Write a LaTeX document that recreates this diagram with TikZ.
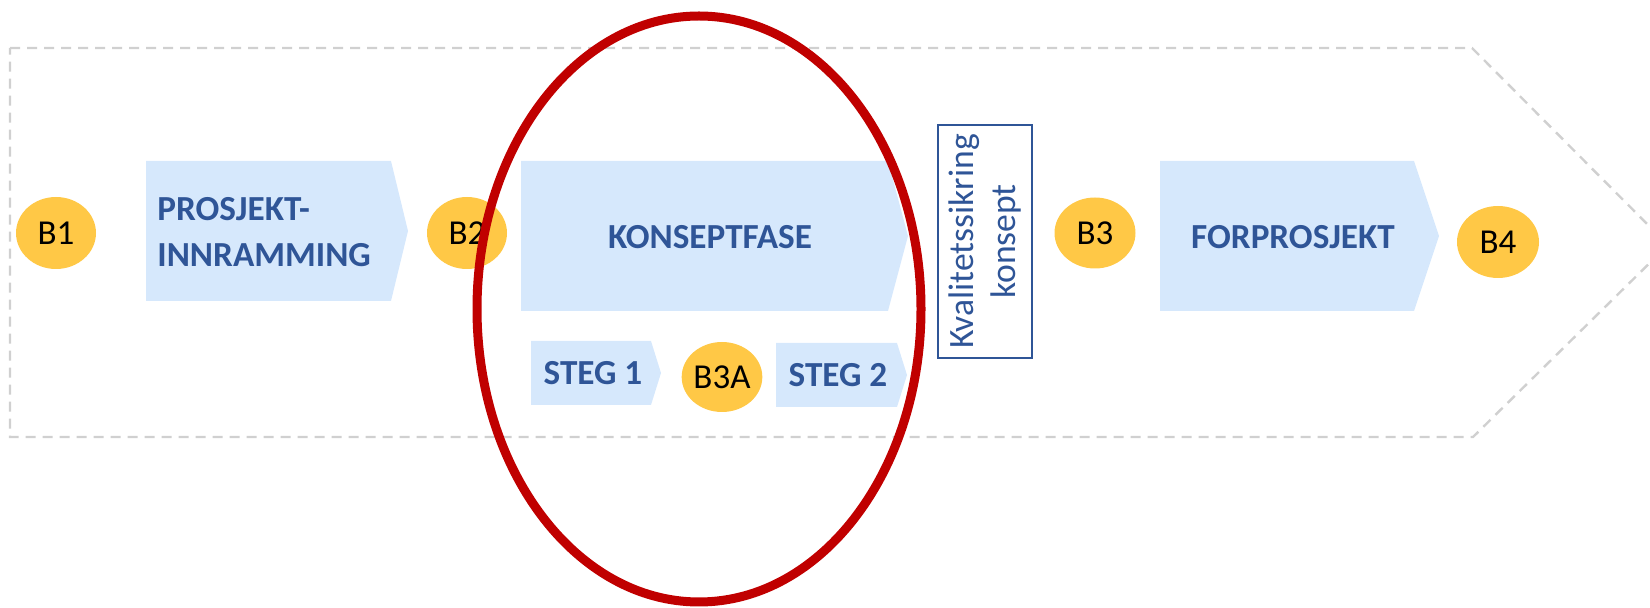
\documentclass[tikz,border=0pt]{standalone}
\usepackage{fontspec}
\setmainfont{Carlito}
\usetikzlibrary{shapes.geometric}

\definecolor{phasefill}{HTML}{D6E8FC}
\definecolor{phasetext}{HTML}{2F5597}
\definecolor{gatefill}{HTML}{FFC846}
\definecolor{ringred}{HTML}{C00000}
\definecolor{framegray}{HTML}{D0D0D0}

\begin{document}
\begin{tikzpicture}[x=0.5pt, y=-0.5pt,
  phase/.style={fill=phasefill, draw=none},
  phaselabel/.style={text=phasetext, inner sep=0pt,
    font=\fontsize{17.6}{23}\selectfont\bfseries},
  gate/.style={ellipse, fill=gatefill, inner sep=0pt, text=black,
    font=\fontsize{17.5}{20}\selectfont},
  qabox/.style={draw=phasetext, line width=0.75pt, text=phasetext,
    align=center, inner sep=0pt, rotate=90,
    font=\fontsize{17.8}{21}\selectfont},
  frameline/.style={draw=framegray, line width=1.2pt, dash pattern=on 5pt off 3.5pt},
  ring/.style={draw=ringred, line width=4.5pt}
]
\useasboundingbox (0,0) rectangle (1650,608);

% outer process outline
\draw[frameline] (10,48) -- (1472,48) -- (1668,245) -- (1473,437) -- (10,437) -- cycle;

% phase chevrons
\fill[phase] (146,161) -- (391,161) -- (408,231) -- (391,301) -- (146,301) -- cycle;
\fill[phase] (521,161) -- (888,161) -- (908,236) -- (888,311) -- (521,311) -- cycle;
\fill[phase] (531,341) -- (651,341) -- (661,373) -- (651,405) -- (531,405) -- cycle;
\fill[phase] (776,343) -- (897,343) -- (907,375) -- (897,407) -- (776,407) -- cycle;
\fill[phase] (1160,161) -- (1414,161) -- (1439,236) -- (1414,311) -- (1160,311) -- cycle;

\node[phaselabel, align=left, anchor=west] (innramming) at (157,232.5) {PROSJEKT-\\INNRAMMING};
\node[phaselabel] (konsept) at (710,237.5) {KONSEPTFASE};
\node[phaselabel, anchor=base] (steg1) at (593,385) {STEG 1};
\node[phaselabel, anchor=base] (steg2) at (838,387) {STEG 2};
\node[phaselabel] (forprosjekt) at (1293,237.5) {FORPROSJEKT};

% decision gates
\node[gate, minimum width=40pt, minimum height=36pt] (b1) at (56,233) {B1};
\node[gate, minimum width=40pt, minimum height=36pt] (b2) at (467,233) {B2};
\node[gate, minimum width=40pt, minimum height=35pt] (b3a) at (722,377) {B3A};
\node[gate, minimum width=40.5pt, minimum height=35.5pt] (b3) at (1095,233) {B3};
\node[gate, minimum width=41pt, minimum height=36pt] (b4) at (1498,242) {B4};

% quality assurance box
\node[qabox, minimum width=116.5pt, minimum height=47pt] (qa) at (985,241.5) {Kvalitetssikring\\konsept};

% highlight ring around the concept phase
\draw[ring] (699,309) ellipse [x radius=222, y radius=293];
\end{tikzpicture}
\end{document}
